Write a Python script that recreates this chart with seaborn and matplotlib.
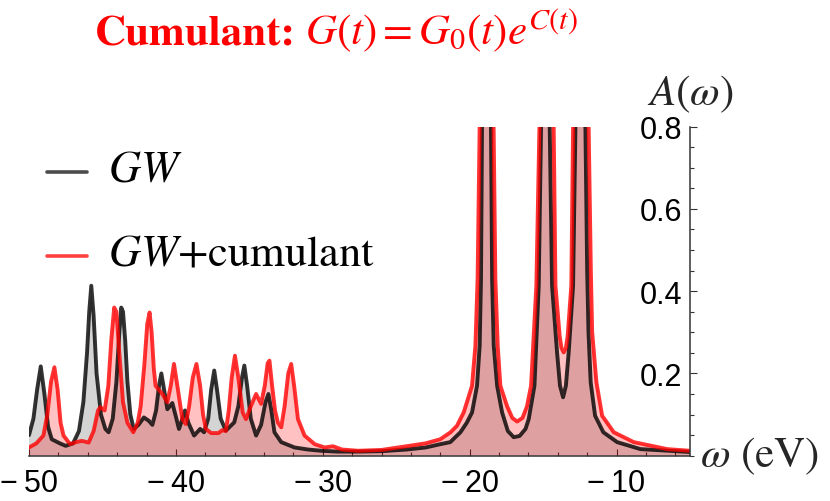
import matplotlib
matplotlib.use('Agg')
import matplotlib.pyplot as plt
import seaborn as sns
from matplotlib.lines import Line2D
from matplotlib.ticker import MultipleLocator

# spectral function (omega in eV, A(omega)); peaks go above 0.8 and get clipped
gw_w = [-50.0, -49.7, -49.45, -49.2, -48.95, -48.7, -48.45, -47.9, -47.5, -47.0,
        -46.6, -46.3, -46.05, -45.9, -45.76, -45.6, -45.4, -45.1, -44.8, -44.58,
        -44.3, -44.05, -43.85, -43.72, -43.6, -43.45, -43.3, -43.1, -42.87, -42.55,
        -42.18, -41.85, -41.6, -41.35, -41.15, -40.99, -40.8, -40.58, -40.24, -40.0,
        -39.79, -39.55, -39.38, -39.15, -38.76, -38.35, -38.08, -37.8, -37.6, -37.39,
        -37.2, -36.95, -36.6, -36.03, -35.75, -35.5, -35.34, -35.15, -34.9, -34.54,
        -34.2, -33.9, -33.7, -33.5, -33.29, -32.83, -31.92, -31.0, -30.1, -29.0,
        -27.5, -26.0, -24.3, -23.0, -22.0, -21.32, -20.63, -20.2, -19.84, -19.5,
        -19.32, -19.23, -19.16, -18.85, -18.55, -18.47, -18.36, -18.13, -17.79, -17.4,
        -17.0, -16.6, -16.2, -15.98, -15.59, -15.3, -15.14, -14.85, -14.55, -14.39,
        -14.05, -13.85, -13.64, -13.45, -13.26, -12.96, -12.8, -12.46, -12.12, -12.0,
        -11.91, -11.76, -11.46, -10.9, -9.96, -8.37, -5.0]
gw_a = [0.05, 0.09, 0.16, 0.217, 0.15, 0.07, 0.04, 0.03, 0.024, 0.03,
        0.06, 0.13, 0.25, 0.35, 0.413, 0.34, 0.2, 0.1, 0.065, 0.057,
        0.09, 0.18, 0.3, 0.36, 0.35, 0.28, 0.18, 0.1, 0.065, 0.075,
        0.093, 0.085, 0.075, 0.11, 0.17, 0.2, 0.16, 0.113, 0.128, 0.095,
        0.065, 0.09, 0.11, 0.08, 0.049, 0.065, 0.057, 0.09, 0.16, 0.207,
        0.16, 0.09, 0.061, 0.081, 0.12, 0.19, 0.219, 0.17, 0.09, 0.049,
        0.075, 0.13, 0.15, 0.11, 0.057, 0.033, 0.02, 0.015, 0.012, 0.01,
        0.01, 0.011, 0.015, 0.02, 0.028, 0.033, 0.057, 0.08, 0.105, 0.17,
        0.267, 0.429, 0.8, 1.6, 0.8, 0.429, 0.267, 0.17, 0.105, 0.06,
        0.045, 0.048, 0.065, 0.089, 0.17, 0.413, 0.8, 1.6, 0.8, 0.413,
        0.251, 0.17, 0.142, 0.17, 0.251, 0.413, 0.8, 1.6, 0.8, 0.45,
        0.3, 0.178, 0.097, 0.057, 0.033, 0.016, 0.009]

cum_w = [-50.0, -49.5, -49.02, -48.75, -48.5, -48.27, -48.05, -47.85, -47.65, -47.2,
         -46.8, -46.4, -45.94, -45.6, -45.3, -45.14, -44.85, -44.6, -44.4, -44.2,
         -44.05, -43.85, -43.6, -43.3, -42.9, -42.6, -42.4, -42.15, -41.95, -41.79,
         -41.65, -41.5, -41.38, -40.92, -40.58, -40.35, -40.13, -39.9, -39.56, -39.33,
         -39.1, -38.85, -38.6, -38.35, -38.15, -37.96, -37.6, -37.1, -36.85, -36.6,
         -36.4, -36.2, -35.98, -35.75, -35.45, -35.23, -34.9, -34.54, -34.2, -33.95,
         -33.75, -33.63, -33.45, -33.25, -33.06, -32.83, -32.6, -32.35, -32.15, -31.95,
         -31.69, -31.24, -30.55, -29.87, -29.3, -28.7, -27.6, -26.0, -24.3, -23.0,
         -22.0, -21.3, -20.86, -20.41, -20.1, -19.84, -19.61, -19.46, -19.32, -18.85,
         -18.37, -18.25, -18.09, -17.91, -17.45, -17.1, -16.77, -16.4, -16.1, -15.82,
         -15.46, -15.25, -14.77, -14.28, -14.16, -13.87, -13.75, -13.6, -13.45, -13.33,
         -13.08, -12.96, -12.43, -11.9, -11.75, -11.66, -11.37, -10.98, -10.19, -8.83,
         -6.55, -5.0]
cum_a = [0.02, 0.03, 0.049, 0.1, 0.18, 0.215, 0.16, 0.08, 0.049, 0.028,
         0.033, 0.036, 0.032, 0.06, 0.11, 0.118, 0.11, 0.17, 0.28, 0.36,
         0.35, 0.25, 0.13, 0.08, 0.057, 0.08, 0.12, 0.22, 0.32, 0.348,
         0.3, 0.21, 0.17, 0.15, 0.13, 0.17, 0.223, 0.17, 0.089, 0.077,
         0.12, 0.19, 0.223, 0.17, 0.1, 0.065, 0.055, 0.055, 0.062, 0.06,
         0.11, 0.19, 0.243, 0.19, 0.105, 0.089, 0.12, 0.15, 0.126, 0.17,
         0.225, 0.231, 0.17, 0.11, 0.081, 0.069, 0.12, 0.2, 0.223, 0.17,
         0.089, 0.049, 0.028, 0.02, 0.023, 0.015, 0.012, 0.014, 0.023, 0.03,
         0.04, 0.057, 0.073, 0.105, 0.14, 0.17, 0.267, 0.429, 0.8, 1.8,
         0.8, 0.429, 0.267, 0.17, 0.12, 0.092, 0.083, 0.092, 0.12, 0.17,
         0.413, 0.8, 1.8, 0.8, 0.413, 0.29, 0.262, 0.251, 0.262, 0.29,
         0.413, 0.8, 1.8, 0.8, 0.45, 0.3, 0.178, 0.097, 0.057, 0.033,
         0.016, 0.012]

x_ticks = [-50, -40, -30, -20, -10]
y_ticks = [0.2, 0.4, 0.6, 0.8]
series_names = ['$GW$', '$GW$+cumulant']

sns.set_theme(style='white')
plt.rcParams['font.family'] = ['Liberation Sans', 'DejaVu Sans']
plt.rcParams['mathtext.fontset'] = 'stix'

fig = plt.figure(figsize=(8.3, 5.02), dpi=100)
ax = fig.add_axes([29 / 830, 45.3 / 502, 661 / 830, 329.2 / 502])

# filled areas first, then the curves
ax.fill_between(gw_w, 0, gw_a, color='black', alpha=0.17, lw=0)
ax.fill_between(cum_w, 0, cum_a, color='red', alpha=0.245, lw=0)
sns.lineplot(x=gw_w, y=gw_a, sort=False, color='black', alpha=0.8, lw=2.8, ax=ax)
sns.lineplot(x=cum_w, y=cum_a, sort=False, color='red', alpha=0.8, lw=2.8, ax=ax)

ax.set_xlim(-50, -5)
ax.set_ylim(0, 0.8)
ax.set_xlabel('')
ax.set_ylabel('')

# mathematica style axes: y axis sits at the right end of the x range
ax.spines['top'].set_visible(False)
ax.spines['right'].set_visible(False)
ax.spines['left'].set_position(('data', -5))
for s in ['left', 'bottom']:
    ax.spines[s].set_color('#333333')
    ax.spines[s].set_linewidth(1.1)

ax.set_xticks(x_ticks, labels=['\u2212\u2009' + str(abs(v)) for v in x_ticks])
ax.set_yticks(y_ticks, labels=[str(v) for v in y_ticks])
ax.xaxis.set_minor_locator(MultipleLocator(2))
ax.yaxis.set_minor_locator(MultipleLocator(0.05))
ax.tick_params(axis='both', which='both', direction='in', color='#333333',
               width=0.8, bottom=True, left=True, top=False, right=False,
               labelsize=22, labelcolor='black')
ax.tick_params(axis='both', which='major', length=5)
ax.tick_params(axis='both', which='minor', length=3)
ax.tick_params(axis='x', which='major', pad=9)
ax.tick_params(axis='y', which='major', pad=5.5)

ax.annotate(r'$A(\omega)$', xy=(1, 1), xycoords='axes fraction', xytext=(0, 9),
            textcoords='offset points', ha='center', va='bottom', fontsize=31,
            family='STIXGeneral')
ax.annotate(r'$\omega$ (eV)', xy=(1, 0), xycoords='axes fraction', xytext=(7, 0),
            textcoords='offset points', ha='left', va='center', fontsize=31,
            family='STIXGeneral')

# title in two pieces: bold word, then the formula right after it
t1 = fig.text(95 / 830, 1 - 45 / 502, 'Cumulant:', color='red', fontsize=31,
              fontweight='bold', family='STIXGeneral', va='baseline')
ax.annotate(r'$G(t)=G_0(t)e^{C(t)}$', xy=(1, 0), xycoords=t1, xytext=(7, 0),
            textcoords='offset points', va='bottom', ha='left', color='red',
            fontsize=31, family='STIXGeneral', annotation_clip=False)

# legend drawn by hand
leg_colors = ['black', 'red']
leg_alpha = [0.7, 0.75]
leg_line_y = [173.3, 256.7]
leg_base_y = [182, 265.5]
for name, c, a, ly, by in zip(series_names, leg_colors, leg_alpha, leg_line_y, leg_base_y):
    fig.add_artist(Line2D([46.7 / 830, 86.7 / 830], [1 - ly / 502] * 2, color=c,
                          alpha=a, lw=2.6, transform=fig.transFigure))
    fig.text(108 / 830, 1 - by / 502, name, fontsize=32, family='STIXGeneral',
             va='baseline', color='black')

fig.savefig('out.png', dpi=100, facecolor='white')
